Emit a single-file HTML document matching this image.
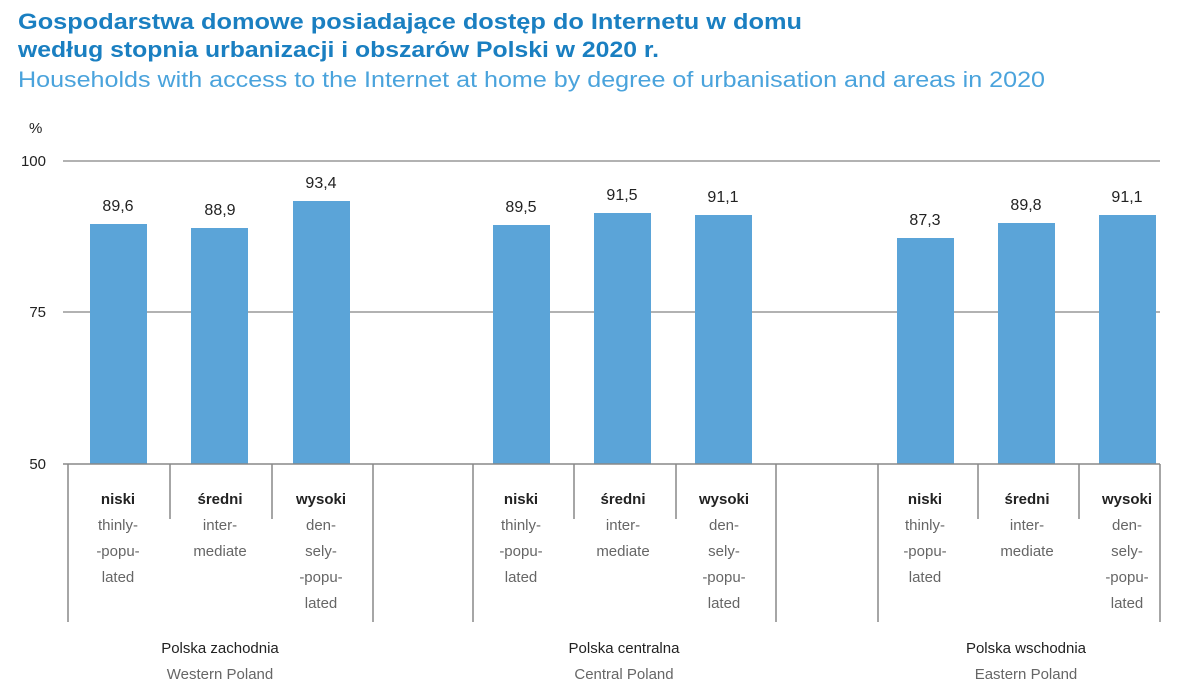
<!DOCTYPE html>
<html><head><meta charset="utf-8"><style>
html,body{margin:0;padding:0;background:#fff;}
svg{display:block;font-family:"Liberation Sans Narrow","Liberation Sans",sans-serif;}
</style></head><body>
<svg width="1200" height="697" viewBox="0 0 1200 697" xmlns="http://www.w3.org/2000/svg">
<g font-family="Liberation Sans, sans-serif">
<text x="18" y="29" font-size="22" font-weight="bold" fill="#1a7fc1" textLength="784" lengthAdjust="spacingAndGlyphs">Gospodarstwa domowe posiadające dostęp do Internetu w domu</text>
<text x="18" y="57" font-size="22" font-weight="bold" fill="#1a7fc1" textLength="641" lengthAdjust="spacingAndGlyphs">według stopnia urbanizacji i obszarów Polski w 2020 r.</text>
<text x="18" y="87" font-size="22" fill="#4aa3dc" textLength="1027" lengthAdjust="spacingAndGlyphs">Households with access to the Internet at home by degree of urbanisation and areas in 2020</text>
</g>
<g font-size="15" fill="#222">
<text x="29" y="133">%</text>
<text x="46" y="166" text-anchor="end">100</text>
<text x="46" y="317" text-anchor="end">75</text>
<text x="46" y="469" text-anchor="end">50</text>
</g>
<g stroke="#999" stroke-width="1.5">
<line x1="63" y1="161" x2="1160" y2="161"/>
<line x1="63" y1="312" x2="1160" y2="312"/>
</g>
<g fill="#5ba4d8">
<rect x="90" y="224" width="57" height="240"/>
<rect x="191" y="228" width="57" height="236"/>
<rect x="293" y="201" width="57" height="263"/>
<rect x="493" y="225" width="57" height="239"/>
<rect x="594" y="213" width="57" height="251"/>
<rect x="695" y="215" width="57" height="249"/>
<rect x="897" y="238" width="57" height="226"/>
<rect x="998" y="223" width="57" height="241"/>
<rect x="1099" y="215" width="57" height="249"/>
</g>
<g font-size="16" fill="#222" text-anchor="middle">
<text x="118" y="211">89,6</text>
<text x="220" y="215">88,9</text>
<text x="321" y="188">93,4</text>
<text x="521" y="212">89,5</text>
<text x="622" y="200">91,5</text>
<text x="723" y="202">91,1</text>
<text x="925" y="225">87,3</text>
<text x="1026" y="210">89,8</text>
<text x="1127" y="202">91,1</text>
</g>
<g stroke="#888" stroke-width="1.5">
<line x1="63" y1="464" x2="1160" y2="464"/>
<line x1="68" y1="464" x2="68" y2="622"/>
<line x1="170" y1="464" x2="170" y2="519"/>
<line x1="272" y1="464" x2="272" y2="519"/>
<line x1="373" y1="464" x2="373" y2="622"/>
<line x1="473" y1="464" x2="473" y2="622"/>
<line x1="574" y1="464" x2="574" y2="519"/>
<line x1="676" y1="464" x2="676" y2="519"/>
<line x1="776" y1="464" x2="776" y2="622"/>
<line x1="878" y1="464" x2="878" y2="622"/>
<line x1="978" y1="464" x2="978" y2="519"/>
<line x1="1079" y1="464" x2="1079" y2="519"/>
<line x1="1160" y1="464" x2="1160" y2="622"/>
</g>
<g font-size="15" text-anchor="middle">
<g transform="translate(0,0)">
<text x="118" y="504" font-weight="bold" fill="#222">niski</text>
<text x="118" y="530" fill="#666">thinly-</text>
<text x="118" y="556" fill="#666">-popu-</text>
<text x="118" y="582" fill="#666">lated</text>
<text x="220" y="504" font-weight="bold" fill="#222">średni</text>
<text x="220" y="530" fill="#666">inter-</text>
<text x="220" y="556" fill="#666">mediate</text>
<text x="321" y="504" font-weight="bold" fill="#222">wysoki</text>
<text x="321" y="530" fill="#666">den-</text>
<text x="321" y="556" fill="#666">sely-</text>
<text x="321" y="582" fill="#666">-popu-</text>
<text x="321" y="608" fill="#666">lated</text>
</g>
<g transform="translate(403,0)">
<text x="118" y="504" font-weight="bold" fill="#222">niski</text>
<text x="118" y="530" fill="#666">thinly-</text>
<text x="118" y="556" fill="#666">-popu-</text>
<text x="118" y="582" fill="#666">lated</text>
<text x="220" y="504" font-weight="bold" fill="#222">średni</text>
<text x="220" y="530" fill="#666">inter-</text>
<text x="220" y="556" fill="#666">mediate</text>
<text x="321" y="504" font-weight="bold" fill="#222">wysoki</text>
<text x="321" y="530" fill="#666">den-</text>
<text x="321" y="556" fill="#666">sely-</text>
<text x="321" y="582" fill="#666">-popu-</text>
<text x="321" y="608" fill="#666">lated</text>
</g>
<g transform="translate(807,0)">
<text x="118" y="504" font-weight="bold" fill="#222">niski</text>
<text x="118" y="530" fill="#666">thinly-</text>
<text x="118" y="556" fill="#666">-popu-</text>
<text x="118" y="582" fill="#666">lated</text>
<text x="220" y="504" font-weight="bold" fill="#222">średni</text>
<text x="220" y="530" fill="#666">inter-</text>
<text x="220" y="556" fill="#666">mediate</text>
<text x="320" y="504" font-weight="bold" fill="#222">wysoki</text>
<text x="320" y="530" fill="#666">den-</text>
<text x="320" y="556" fill="#666">sely-</text>
<text x="320" y="582" fill="#666">-popu-</text>
<text x="320" y="608" fill="#666">lated</text>
</g>
<text x="220" y="653" fill="#222">Polska zachodnia</text>
<text x="220" y="679" fill="#666">Western Poland</text>
<text x="624" y="653" fill="#222">Polska centralna</text>
<text x="624" y="679" fill="#666">Central Poland</text>
<text x="1026" y="653" fill="#222">Polska wschodnia</text>
<text x="1026" y="679" fill="#666">Eastern Poland</text>
</g>
</svg>
</body></html>
